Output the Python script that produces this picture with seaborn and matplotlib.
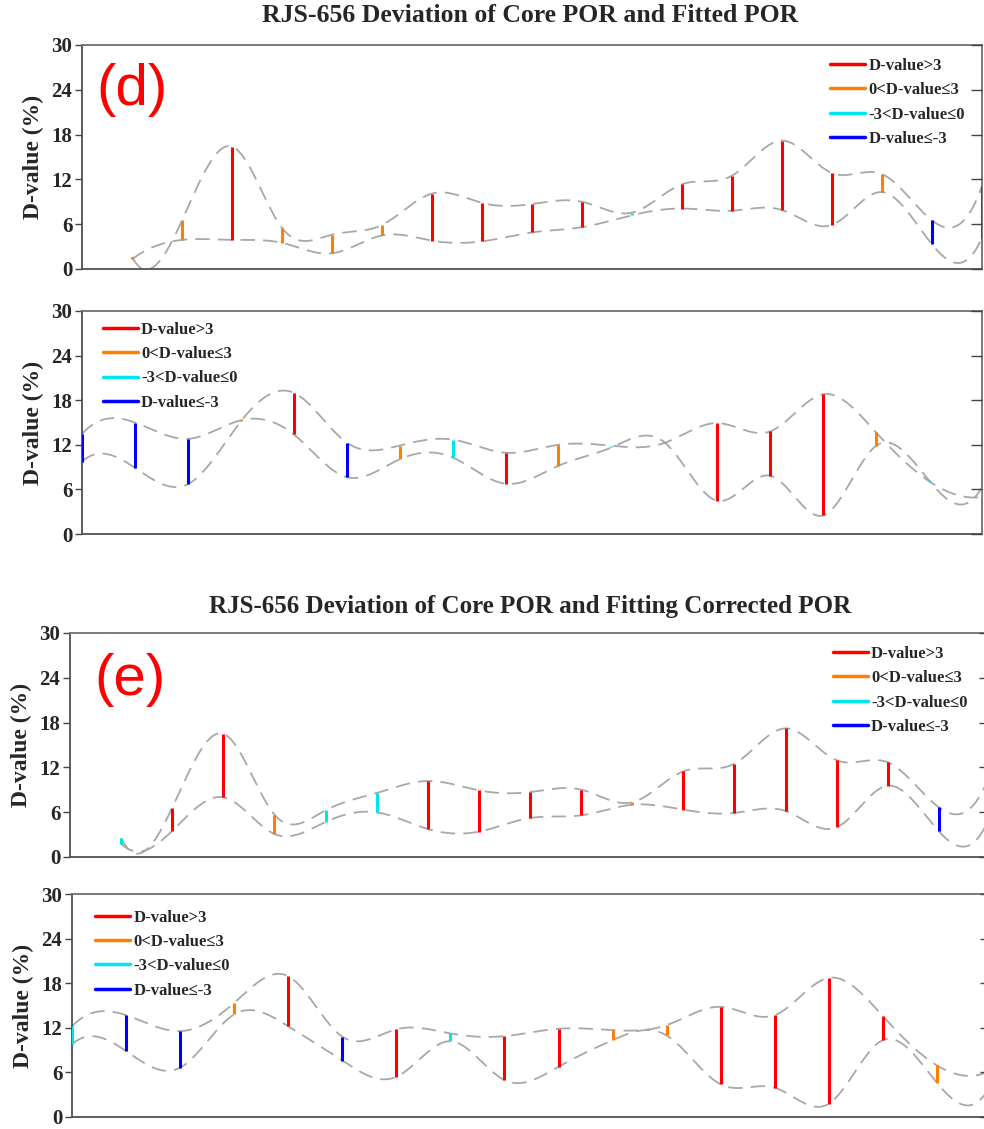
import numpy as np
import matplotlib
matplotlib.use("Agg")
import matplotlib.pyplot as plt
import seaborn as sns
from matplotlib.lines import Line2D

# ---------------- data ----------------
# panel (d) upper: sample index, the two POR curves and the D-value at each sample
p1_idx = list(range(1, 19))
p1_curve_a = [1.6, 6.5, 16.4, 5.5, 4.6, 5.9, 10.1, 8.85, 8.7, 9.0, 7.55, 11.35, 12.5, 17.2, 12.85, 12.7, 6.5, 11.1]
p1_curve_b = [1.3, 3.9, 3.9, 3.5, 2.1, 4.5, 3.8, 3.7, 4.9, 5.6, 7.2, 8.1, 7.8, 7.9, 5.9, 10.3, 3.3, 4.2]
p1_dvalue = [0.3, 2.6, 12.5, 2.0, 2.5, 1.4, 6.3, 5.15, 3.8, 3.4, -0.35, 3.25, 4.7, 9.3, 6.95, 2.4, -3.2, 6.9]

# panel (d) lower
p2_idx = list(range(0, 18))
p2_curve_a = [13.45, 15.0, 12.8, 15.3, 13.4, 7.65, 10.05, 10.3, 6.76, 9.18, 11.64, 12.35, 4.47, 7.84, 2.5, 11.87, 7.2, 6.31]
p2_curve_b = [9.75, 8.9, 6.7, 15.15, 19.0, 12.3, 11.9, 12.7, 10.93, 12.0, 11.87, 12.25, 14.92, 13.8, 18.8, 13.66, 7.1, 4.97]
p2_dvalue = [-3.7, -6.1, -6.1, 0.15, 5.6, -4.65, 1.85, -2.4, 4.17, 2.82, -0.23, 0.1, 10.45, 5.96, 16.3, 1.79, -0.1, 1.34]

# panel (e) upper
p3_idx = list(range(1, 19))
p3_curve_a = [2.55, 6.6, 16.5, 5.67, 6.25, 8.57, 10.18, 8.93, 8.7, 9.02, 7.32, 11.47, 12.5, 17.23, 12.95, 12.68, 6.65, 11.1]
p3_curve_b = [1.79, 3.5, 8.0, 3.08, 4.69, 5.98, 3.75, 3.4, 5.22, 5.58, 7.0, 6.34, 5.9, 6.16, 3.97, 9.55, 3.44, 5.5]
p3_dvalue = [-0.76, 3.1, 8.5, 2.59, -1.56, -2.59, 6.43, 5.53, 3.48, 3.44, 0.32, 5.13, 6.6, 11.07, 8.98, 3.13, -3.21, 5.6]

# panel (e) lower
p4_idx = list(range(0, 18))
p4_curve_a = [12.2, 13.7, 11.55, 15.36, 18.94, 10.8, 11.8, 11.24, 10.88, 11.87, 11.69, 12.36, 14.82, 13.7, 18.72, 13.57, 6.94, 6.3]
p4_curve_b = [9.76, 8.87, 6.63, 13.8, 12.2, 7.6, 5.4, 10.2, 4.97, 6.76, 10.34, 10.97, 4.39, 3.94, 1.79, 10.34, 4.6, 4.4]
p4_dvalue = [-2.44, -4.83, -4.92, 1.56, 6.74, -3.2, 6.4, -1.04, 5.91, 5.11, 1.35, 1.39, 10.43, 9.76, 16.93, 3.23, 2.34, 1.9]

class_labels = ["D-value>3", "0<D-value\u22643", "-3<D-value\u22640", "D-value\u2264-3"]
class_colors = ["#ff0000", "#ff8000", "#00e5ee", "#0000ff"]
y_ticks = [0, 6, 12, 18, 24, 30]
titles = ["RJS-656 Deviation of Core POR and Fitted POR",
          "RJS-656 Deviation of Core POR and Fitting Corrected POR"]
panel_tags = ["(d)", "(e)"]

# ---------------- helpers ----------------
def nak_spline(x, y, xq):
    """Not-a-knot cubic spline (as MATLAB's spline) through (x, y)."""
    x = np.asarray(x, float); y = np.asarray(y, float)
    n = len(x); h = np.diff(x)
    A = np.zeros((n, n)); r = np.zeros(n)
    A[0, 0] = h[1]; A[0, 1] = -(h[0] + h[1]); A[0, 2] = h[0]
    for i in range(1, n - 1):
        A[i, i - 1] = h[i - 1]; A[i, i] = 2 * (h[i - 1] + h[i]); A[i, i + 1] = h[i]
        r[i] = 6 * ((y[i + 1] - y[i]) / h[i] - (y[i] - y[i - 1]) / h[i - 1])
    A[-1, -3] = h[-1]; A[-1, -2] = -(h[-2] + h[-1]); A[-1, -1] = h[-2]
    M = np.linalg.solve(A, r)
    k = np.clip(np.searchsorted(x, xq, side="right") - 1, 0, n - 2)
    x0 = x[k]; x1 = x[k + 1]; hk = h[k]
    return (M[k] * (x1 - xq) ** 3 / (6 * hk) + M[k + 1] * (xq - x0) ** 3 / (6 * hk)
            + (y[k] / hk - M[k] * hk / 6) * (x1 - xq) + (y[k + 1] / hk - M[k + 1] * hk / 6) * (xq - x0))


def d_class(d):
    if d > 3:
        return 0
    if d > 0:
        return 1
    if d > -3:
        return 2
    return 3


sns.set_style("white")
plt.rcParams["font.family"] = ["Liberation Serif", "DejaVu Serif"]
SERIF = ["Liberation Serif", "DejaVu Serif"]

W, H = 984, 1129
fig = plt.figure(figsize=(W / 100, H / 100), dpi=100)


def px_axes(l, t, r, b):
    return fig.add_axes([l / W, 1 - b / H, (r - l) / W, (b - t) / H])


def draw_panel(ax, idx, ca, cb, dv, xmax, leg_xy, tag=None, tag_xy=None):
    xq = np.linspace(idx[0], idx[-1], 600)
    for c in (ca, cb):
        sns.lineplot(x=xq, y=nak_spline(idx, c, xq), ax=ax, color="#a8a8a8", lw=1.3,
                     linestyle=(0, (8, 4.5)), estimator=None, sort=False, zorder=2)
    lo = np.minimum(ca, cb); hi = np.maximum(ca, cb)
    cols = [class_colors[d_class(d)] for d in dv]
    ax.vlines(idx, lo, hi, colors=cols, lw=2.2, zorder=3)
    ax.set_xlim(0, xmax)
    ax.set_ylim(0, 30)
    ax.set_xticks([])
    ax.set_yticks(y_ticks)
    ax.set_yticklabels([str(t) for t in y_ticks], fontfamily=SERIF, fontweight="bold", fontsize=15)
    ax.tick_params(axis="y", direction="out", length=5, width=1, color="#444444", pad=2, left=True)
    ax.set_ylabel("D-value (%)", fontfamily=SERIF, fontweight="bold", fontsize=17, labelpad=5)
    for s in ax.spines.values():
        s.set_color("#707070"); s.set_linewidth(1.3)
    ax.spines["bottom"].set_color("#505050")
    ax.spines["left"].set_color("#505050")
    ax2 = ax.twinx()
    ax2.set_ylim(0, 30)
    ax2.set_yticks(y_ticks)
    ax2.set_yticklabels([])
    ax2.tick_params(axis="y", direction="in", length=8, width=1, color="#444444")
    for s in ax2.spines.values():
        s.set_visible(False)
    handles = [Line2D([], [], color=c, lw=2.5) for c in class_colors]
    ax.legend(handles, class_labels, loc="upper left", bbox_to_anchor=leg_xy, frameon=False,
              prop=dict(family=SERIF, weight="bold", size=12), handlelength=2.1,
              handletextpad=0.2, labelspacing=0.5, borderpad=0, borderaxespad=0)
    if tag is not None:
        ax.text(tag_xy[0], tag_xy[1], tag, transform=ax.transAxes, color="#ff0000",
                fontfamily=["Liberation Sans Narrow", "Liberation Sans", "DejaVu Sans"],
                fontsize=42, ha="left", va="center")


ax1 = px_axes(82, 45, 982, 269)
draw_panel(ax1, p1_idx, p1_curve_a, p1_curve_b, p1_dvalue, 18, (0.831, 0.942), panel_tags[0], (0.016, 0.80))
ax2 = px_axes(82, 311, 982, 534)
draw_panel(ax2, p2_idx, p2_curve_a, p2_curve_b, p2_dvalue, 17, (0.023, 0.952))
ax3 = px_axes(70, 633, 990, 857)
draw_panel(ax3, p3_idx, p3_curve_a, p3_curve_b, p3_dvalue, 18, (0.829, 0.942), panel_tags[1], (0.026, 0.79))
ax4 = px_axes(72, 894, 991, 1117)
draw_panel(ax4, p4_idx, p4_curve_a, p4_curve_b, p4_dvalue, 17, (0.025, 0.93))

fig.text(530 / W, 1 - 16 / H, titles[0], ha="center", va="center", fontfamily=SERIF,
         fontweight="bold", fontsize=18.5)
fig.text(530 / W, 1 - 606 / H, titles[1], ha="center", va="center", fontfamily=SERIF,
         fontweight="bold", fontsize=18)

fig.savefig("out.png", dpi=100)
